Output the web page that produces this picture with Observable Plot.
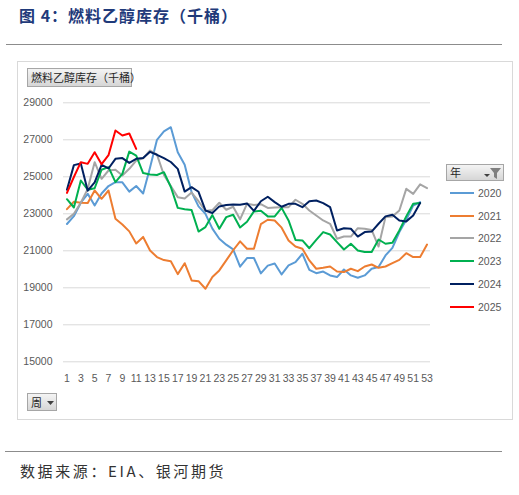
<!DOCTYPE html>
<html><head><meta charset="utf-8">
<script src="https://cdn.jsdelivr.net/npm/d3@7"></script>
<script src="https://cdn.jsdelivr.net/npm/@observablehq/plot@0.6"></script>
<style>
body{margin:0;background:#fff;}
#page{position:relative;width:519px;height:495px;overflow:hidden;background:#fff;font-family:"Liberation Sans",Arial,sans-serif;}
.abs{position:absolute;}
#title{left:19px;top:4px;font-family:"Noto Sans CJK SC",sans-serif;font-weight:bold;font-size:16px;letter-spacing:1px;color:#1f3a7a;white-space:nowrap;line-height:22px;}
.hr{height:0;border-top:1px solid #8c8c8c;}
#frame{left:17px;top:61px;width:494px;height:357px;border:1px solid #d9d9d9;}
.btn{background:linear-gradient(#f4f4f4,#d6d6d6);border:1px solid #a6a6a6;box-sizing:border-box;font-family:"Noto Sans CJK SC",sans-serif;color:#262626;font-size:11px;white-space:nowrap;}
#src{left:20px;top:461px;font-family:"Noto Sans CJK SC",serif;font-size:15px;letter-spacing:2.6px;color:#333;white-space:nowrap;line-height:20px;}
.lg{position:absolute;left:450px;font-size:10.5px;color:#595959;line-height:12px;white-space:nowrap;}
.lg span.sw{position:absolute;left:0;top:5px;width:24px;height:2px;}
.lg span.tx{position:absolute;left:28px;top:0;}
</style></head>
<body><div id="page">
<div id="title" class="abs">图 4：燃料乙醇库存（千桶）</div>
<div class="abs hr" style="left:6px;top:44px;width:496px;"></div>
<div id="frame" class="abs"></div>
<div class="abs btn" style="left:27px;top:68px;width:105px;height:19px;line-height:17px;padding-left:3px;">燃料乙醇库存（千桶）</div>
<div class="abs btn" style="left:27px;top:393px;width:30px;height:18px;line-height:16px;padding-left:3px;">周<svg style="position:absolute;left:19px;top:7px" width="7" height="4"><path d="M0,0H7L3.5,4Z" fill="#404040"/></svg></div>
<div class="abs btn" style="left:446px;top:164px;width:58px;height:17px;line-height:15px;padding-left:3px;">年<svg style="position:absolute;left:37px;top:3px" width="18" height="11"><path d="M0,6H6L3,9Z" fill="#404040"/><path d="M6,0H17L13,5V11L10,9V5Z" fill="#7f7f7f"/></svg></div>
<div id="legend"></div>
<div class="abs hr" style="left:5px;top:451px;width:497px;"></div>
<div id="src" class="abs">数据来源：EIA、银河期货</div>
</div>
<script>
const years = ["2020","2021","2022","2023","2024","2025"];
const colors = ["#5b9bd5","#ed7d31","#a5a5a5","#00b050","#002060","#ff0000"];
const yTicks = [15000,17000,19000,21000,23000,25000,27000,29000];
const xTicks = d3.range(1,54,2);

const v2020 = [22450,22870,23600,24080,23450,24100,24500,24710,24700,24200,24500,24100,25500,27000,27450,27680,26330,25650,24170,23400,23000,22200,21650,21330,21080,20140,20610,20610,19780,20200,20310,19720,20210,20390,20840,19970,19790,19880,19670,19580,19990,19670,19540,19670,20030,20120,20750,21160,22010,22680,23450,23630];
const v2021 = [23250,23650,23600,23580,24260,23810,24260,22730,22420,22050,21400,21750,21020,20660,20500,20440,19740,20330,19400,19360,18950,19580,19940,20480,21030,21510,21110,21110,22440,22680,22640,22250,21560,21230,21110,20480,20030,20080,20150,19880,19850,20030,19900,20150,20260,20080,20150,20330,20510,20870,20660,20660,21340];
const v2022 = [22700,23000,23600,24350,25790,24890,25340,25380,25070,25430,25880,26000,26420,26200,25100,24500,23900,23830,24150,23680,23150,23200,23600,23220,23380,22700,23540,23470,23520,23320,23340,23360,23360,23760,23540,23180,22910,22640,22460,21650,21770,21770,22220,22190,22130,21230,22820,22860,23180,24350,24080,24590,24390];
const v2023 = [23790,23340,24800,24300,24380,25380,25520,24710,25160,26360,26150,25200,25130,25100,25250,24450,23320,23250,23200,22040,22280,22930,22190,22820,22950,22260,22570,23130,23160,22860,22860,23320,22640,21590,21560,21140,21590,22010,21880,21470,21070,21380,21020,20930,20930,21610,21380,21430,22100,22860,23540,23580];
const v2024 = [24300,25630,25720,24250,24700,25650,25450,25970,26010,25750,25970,26010,26350,26190,26010,25800,25430,24200,24440,24190,23180,23040,23400,23470,23500,23490,23560,23160,23680,23920,23630,23380,23540,23540,23360,23680,23720,23580,23360,22100,22220,22190,21770,22010,22040,22460,22860,22950,22640,22590,22910,23580];
const v2025 = [24130,24990,25790,25700,26330,25680,26170,27500,27230,27340,26510];

const series = [v2020,v2021,v2022,v2023,v2024,v2025];
const data = [];
series.forEach((vals,i)=>vals.forEach((v,j)=>data.push({year:years[i],week:j+1,value:v})));

const chart = Plot.plot({
  width:519, height:495,
  marginLeft:63, marginRight:89, marginTop:102.3, marginBottom:133.7,
  x:{domain:[0.5,53.5]},
  y:{domain:[15000,29000]},
  color:{domain:years, range:colors},
  style:{background:"transparent", fontFamily:"Liberation Sans, Arial, sans-serif", fontSize:"10.5px", color:"#595959"},
  marks:[
    Plot.gridY(yTicks,{stroke:"#d9d9d9", strokeOpacity:1}),
    Plot.axisY(yTicks,{tickSize:0, tickPadding:11, tickFormat:d=>String(d), label:null, fill:"#595959"}),
    Plot.axisX(xTicks,{tickSize:0, tickPadding:12.6, label:null, fill:"#595959"}),
    Plot.line(data,{x:"week", y:"value", z:"year", stroke:"year", strokeWidth:2, strokeLinejoin:"round", strokeLinecap:"round"})
  ]
});
chart.style.position="absolute"; chart.style.left="0px"; chart.style.top="0px";
document.getElementById("page").insertBefore(chart, document.getElementById("page").children[3]);

const lg = document.getElementById("legend");
years.forEach((y,i)=>{
  const d = document.createElement("div");
  d.className="lg";
  d.style.top = (187 + i*22.7) + "px";
  d.innerHTML = `<span class="sw" style="background:${colors[i]}"></span><span class="tx">${y}</span>`;
  lg.appendChild(d);
});
</script>
</body></html>
